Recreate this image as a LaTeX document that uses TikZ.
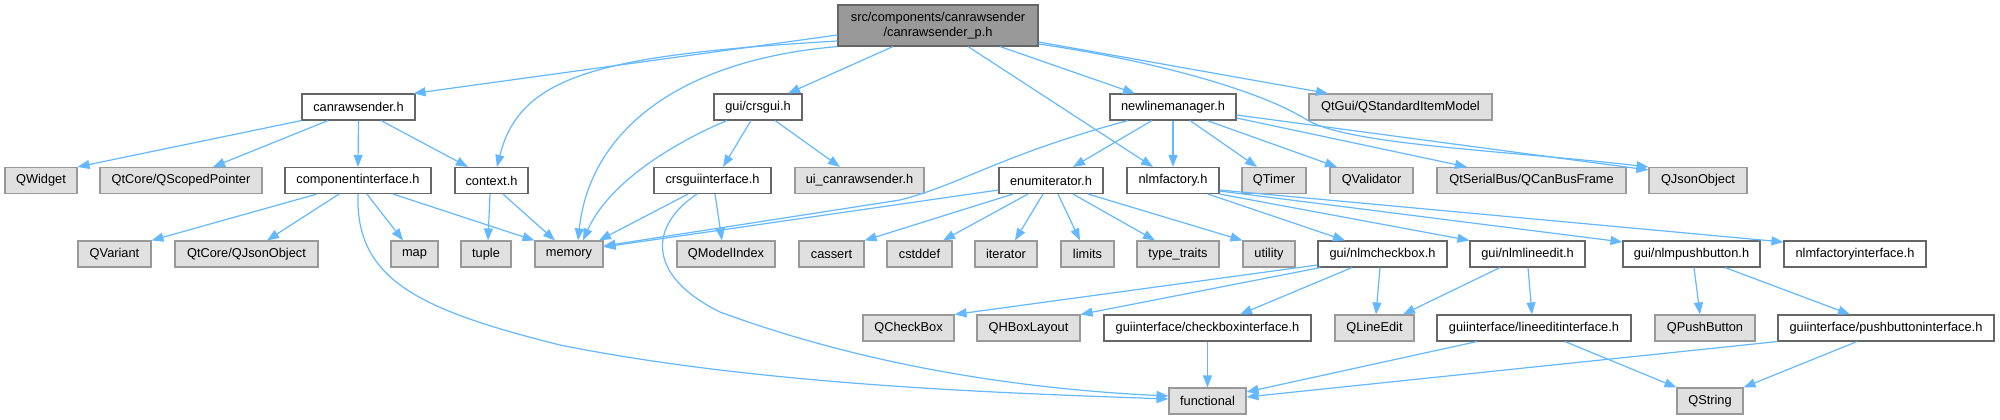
\documentclass[tikz,border=0pt]{standalone}
\usepackage{fontspec}
\setmainfont{Liberation Sans}
\usetikzlibrary{arrows.meta}
\definecolor{edgec}{HTML}{63B8FF}
\definecolor{boxb}{HTML}{666666}
\definecolor{sysb}{HTML}{999999}
\definecolor{sysf}{HTML}{E0E0E0}
\definecolor{rootf}{HTML}{999999}
\begin{document}
\begin{tikzpicture}[x=1pt,y=-1pt,
  box/.style={draw=boxb, line width=1.1pt, fill=white, inner sep=0pt, minimum height=26pt,
    font=\fontsize{12.8}{15}\selectfont, text=black},
  sysbox/.style={box, draw=sysb, fill=sysf},
  rootbox/.style={box, fill=rootf, minimum height=41pt, align=center},
  edge/.style={draw=edgec, line width=1.2pt, -{Triangle[length=12pt,width=9pt]}},
]
\useasboundingbox (0,0) rectangle (2000,420);

% row 0
\node[rootbox, minimum width=200pt] (root) at (938,25.5) {src/components/canrawsender\\/canrawsender\_p.h};
% row 1
\node[box, minimum width=113pt] (canraw) at (358.5,107) {canrawsender.h};
\node[box, minimum width=88pt] (crsgui) at (758,107) {gui/crsgui.h};
\node[box, minimum width=126pt] (nlm) at (1173,107) {newlinemanager.h};
\node[sysbox, minimum width=183pt] (qsim) at (1400.5,107) {QtGui/QStandardItemModel};
% row 2
\node[sysbox, minimum width=72pt] (qwidget) at (41,180.5) {QWidget};
\node[sysbox, minimum width=162pt] (qscoped) at (181,180.5) {QtCore/QScopedPointer};
\node[box, minimum width=146pt] (compif) at (358,180.5) {componentinterface.h};
\node[box, minimum width=73pt] (context) at (491.5,180.5) {context.h};
\node[box, minimum width=117pt] (crsguiif) at (712.5,180.5) {crsguiinterface.h};
\node[sysbox, minimum width=129pt] (uicrs) at (859.5,180.5) {ui\_canrawsender.h};
\node[box, minimum width=104pt] (enumit) at (1051,180.5) {enumiterator.h};
\node[box, minimum width=92pt] (nlmfac) at (1173,180.5) {nlmfactory.h};
\node[sysbox, minimum width=64pt] (qtimer) at (1274,180.5) {QTimer};
\node[sysbox, minimum width=83pt] (qvalid) at (1371.5,180.5) {QValidator};
\node[sysbox, minimum width=189pt] (qcanbus) at (1531.5,180.5) {QtSerialBus/QCanBusFrame};
\node[sysbox, minimum width=98pt] (qjson) at (1698,180.5) {QJsonObject};
% row 3
\node[sysbox, minimum width=73pt] (qvariant) at (114.5,254) {QVariant};
\node[sysbox, minimum width=143pt] (qcjson) at (246.5,254) {QtCore/QJsonObject};
\node[sysbox, minimum width=47pt] (map) at (414.5,254) {map};
\node[sysbox, minimum width=50pt] (tuple) at (486,254) {tuple};
\node[sysbox, minimum width=68pt] (memory) at (569,254) {memory};
\node[sysbox, minimum width=98pt] (qmodel) at (726,254) {QModelIndex};
\node[sysbox, minimum width=65pt] (cassert) at (831.5,254) {cassert};
\node[sysbox, minimum width=65pt] (cstddef) at (919.5,254) {cstddef};
\node[sysbox, minimum width=62pt] (iterator) at (1006,254) {iterator};
\node[sysbox, minimum width=53pt] (limits) at (1087.5,254) {limits};
\node[sysbox, minimum width=82pt] (typetraits) at (1178,254) {type\_traits};
\node[sysbox, minimum width=52pt] (utility) at (1269,254) {utility};
\node[box, minimum width=129pt] (nlmcb) at (1382.5,254) {gui/nlmcheckbox.h};
\node[box, minimum width=115pt] (nlmle) at (1527.5,254) {gui/nlmlineedit.h};
\node[box, minimum width=137pt] (nlmpb) at (1691.5,254) {gui/nlmpushbutton.h};
\node[box, minimum width=142pt] (nlmfi) at (1855,254) {nlmfactoryinterface.h};
% row 4
\node[sysbox, minimum width=91pt] (qcheckbox) at (908.5,328) {QCheckBox};
\node[sysbox, minimum width=103pt] (qhbox) at (1028.5,328) {QHBoxLayout};
\node[box, minimum width=207pt] (cbif) at (1207.5,328) {guiinterface/checkboxinterface.h};
\node[sysbox, minimum width=79pt] (qlineedit) at (1374.5,328) {QLineEdit};
\node[box, minimum width=194pt] (leif) at (1534,328) {guiinterface/lineeditinterface.h};
\node[sysbox, minimum width=100pt] (qpush) at (1705,328) {QPushButton};
\node[box, minimum width=216pt] (pbif) at (1886,328) {guiinterface/pushbuttoninterface.h};
% row 5
\node[sysbox, minimum width=77pt] (functional) at (1207.5,401) {functional};
\node[sysbox, minimum width=66pt] (qstring) at (1710,401) {QString};

% root edges
\draw[edge] ([yshift=-9.5pt]root.west) -- ([xshift=-2pt]canraw.north east);
\draw[edge] ([yshift=-15.5pt]root.west) .. controls (600,55) and (520,75) .. ([xshift=5.5pt]context.north);
\draw[edge] (root.south west) .. controls (680,60) and (590,130) .. ([xshift=9pt]memory.north);
\draw[edge] ([xshift=-45pt]root.south) -- ([xshift=30pt]crsgui.north);
\draw[edge] ([xshift=30pt]root.south) -- ([xshift=-20pt]nlmfac.north);
\draw[edge] ([xshift=62pt]root.south) -- ([xshift=-38pt]nlm.north);
\draw[edge] ([yshift=-16.5pt]root.east) -- ([xshift=-72.5pt]qsim.north);
\draw[edge] ([yshift=-18.5pt]root.east) .. controls (1150,60) and (1260,90) .. (1307,120) .. controls (1350,145) and (1500,150) .. (qjson.north west);
% canrawsender.h
\draw[edge] (canraw.south west) -- (qwidget.north east);
\draw[edge] ([xshift=-30.5pt]canraw.south) -- ([xshift=32pt]qscoped.north);
\draw[edge] (canraw.south) -- (compif.north);
\draw[edge] ([xshift=22.5pt]canraw.south) -- ([xshift=-23.5pt]context.north);
% componentinterface.h
\draw[edge] ([xshift=-41pt]compif.south) -- (qvariant.north east);
\draw[edge] ([xshift=-19pt]compif.south) -- ([xshift=20.5pt]qcjson.north);
\draw[edge] ([xshift=9pt]compif.south) -- ([xshift=-11.5pt]map.north);
\draw[edge] ([xshift=35pt]compif.south) -- (memory.north west);
\draw[edge] (compif.south) .. controls (355,280) and (420,310) .. (560,345) .. controls (760,385) and (1000,393) .. ([yshift=2pt]functional.west);
% context.h
\draw[edge] ([xshift=-1.5pt]context.south) -- ([xshift=2pt]tuple.north);
\draw[edge] ([xshift=11.5pt]context.south) -- ([xshift=-14pt]memory.north);
% gui/crsgui.h
\draw[edge] ([xshift=-31pt]crsgui.south) .. controls (680,140) and (610,180) .. ([xshift=14pt]memory.north);
\draw[edge] ([xshift=-7pt]crsgui.south) -- ([xshift=10.5pt]crsguiif.north);
\draw[edge] ([xshift=17pt]crsgui.south) -- ([xshift=-19.5pt]uicrs.north);
% crsguiinterface.h
\draw[edge] ([xshift=-24.5pt]crsguiif.south) -- ([xshift=30pt]memory.north);
\draw[edge] ([xshift=2.5pt]crsguiif.south) -- ([xshift=-4pt]qmodel.north);
\draw[edge] ([xshift=-15.5pt]crsguiif.south) .. controls (650,225) and (645,275) .. (720,312) .. controls (850,360) and (1000,388) .. ([yshift=5pt]functional.west);
% newlinemanager.h
\draw[edge] ([xshift=-45pt]nlm.south) .. controls (1000,155) and (960,185) .. (900,200) -- ([yshift=8pt]memory.east);
\draw[edge] ([xshift=-21pt]nlm.south) -- ([xshift=22pt]enumit.north);
\draw[edge] (nlm.south) -- (nlmfac.north);
\draw[edge] ([xshift=17pt]nlm.south) -- ([xshift=-17pt]qtimer.north);
\draw[edge] ([xshift=34pt]nlm.south) -- ([xshift=-34.5pt]qvalid.north);
\draw[edge] ([yshift=-11pt]nlm.east) -- ([xshift=-64.5pt]qcanbus.north);
\draw[edge] ([yshift=-8pt]nlm.east) -- ([yshift=10.5pt]qjson.west);
% enumiterator.h
\draw[edge] ([yshift=-9.5pt]enumit.west) -- ([yshift=7pt]memory.east);
\draw[edge] ([xshift=-38pt]enumit.south) -- (cassert.north east);
\draw[edge] ([xshift=-23pt]enumit.south) -- ([xshift=23.5pt]cstddef.north);
\draw[edge] ([xshift=-8pt]enumit.south) -- ([xshift=9pt]iterator.north);
\draw[edge] ([xshift=7pt]enumit.south) -- ([xshift=-7.5pt]limits.north);
\draw[edge] ([xshift=22pt]enumit.south) -- ([xshift=-23pt]typetraits.north);
\draw[edge] ([xshift=37pt]enumit.south) -- (utility.north west);
% nlmfactory.h
\draw[edge] ([xshift=35pt]nlmfac.south) -- ([xshift=-37.5pt]nlmcb.north);
\draw[edge] (nlmfac.south east) -- (nlmle.north west);
\draw[edge] ([yshift=-10.5pt]nlmfac.east) -- ([yshift=12pt]nlmpb.west);
\draw[edge] ([yshift=-9.5pt]nlmfac.east) -- ([yshift=12pt]nlmfi.west);
% gui/nlmcheckbox.h
\draw[edge] ([yshift=-11pt]nlmcb.west) -- (qcheckbox.north east);
\draw[edge] ([xshift=3pt]nlmcb.south west) -- (qhbox.north east);
\draw[edge] ([xshift=-30.5pt]nlmcb.south) -- ([xshift=32.5pt]cbif.north);
\draw[edge] ([xshift=-2.5pt]nlmcb.south) -- ([xshift=1.5pt]qlineedit.north);
% gui/nlmlineedit.h
\draw[edge] ([xshift=-27.5pt]nlmle.south) -- ([xshift=28.5pt]qlineedit.north);
\draw[edge] ([xshift=0.5pt]nlmle.south) -- ([xshift=-2pt]leif.north);
% gui/nlmpushbutton.h
\draw[edge] ([xshift=2.5pt]nlmpb.south) -- ([xshift=-5pt]qpush.north);
\draw[edge] ([xshift=33.5pt]nlmpb.south) -- ([xshift=-36pt]pbif.north);
% interfaces
\draw[edge] (cbif.south) -- (functional.north);
\draw[edge] ([xshift=-57pt]leif.south) -- ([yshift=9pt]functional.east);
\draw[edge] ([xshift=31pt]leif.south) -- (qstring.north west);
\draw[edge] (pbif.south west) -- ([yshift=4pt]functional.east);
\draw[edge] ([xshift=-29pt]pbif.south) -- (qstring.north east);
\end{tikzpicture}
\end{document}
